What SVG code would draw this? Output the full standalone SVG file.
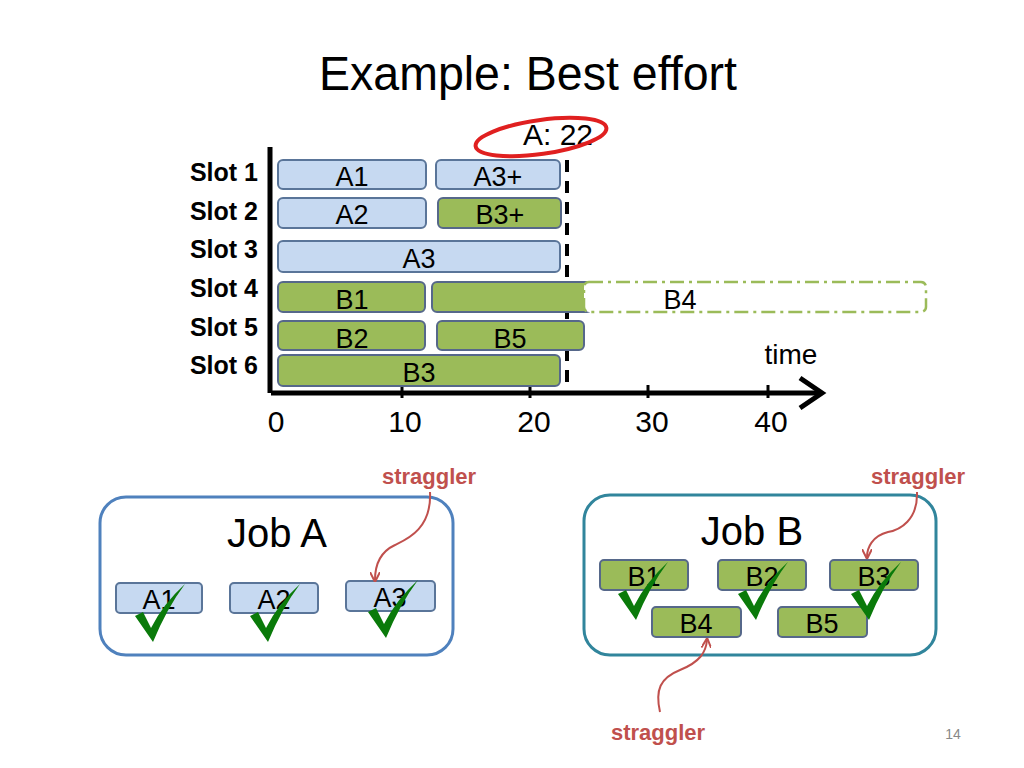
<svg xmlns="http://www.w3.org/2000/svg" width="1024" height="768" viewBox="0 0 1024 768">
<style>
.t{font-family:"Liberation Sans",Arial,sans-serif;fill:#000}
.s{font-family:"Liberation Sans",Arial,sans-serif;font-weight:bold;font-size:25px;text-anchor:end}
.b{fill:#c6d9f1;stroke:#5a7599;stroke-width:2}
.g{fill:#9bbb59;stroke:#56688a;stroke-width:2}
.l{font-family:"Liberation Sans",Arial,sans-serif;font-size:27px;text-anchor:middle}
.m{font-family:"Liberation Sans",Arial,sans-serif;font-size:27px;text-anchor:middle}
.r{font-family:"Liberation Sans",Arial,sans-serif;font-weight:bold;font-size:22px;fill:#c0504d;text-anchor:middle}
.c{fill:#0a7a0a}
.cv{fill:none;stroke:#c0504d;stroke-width:2}
</style>
<defs>
<marker id="ah" viewBox="0 0 10 10" refX="8" refY="5" markerWidth="5" markerHeight="5" orient="auto"><path d="M0,0L10,5L0,10" fill="none" stroke="#c0504d" stroke-width="2"/></marker>
<path id="chk" d="M0,18 L8,14 L16,30 Q28,6 50,-14 Q32,10 18,44 Z"/>
</defs>
<rect width="1024" height="768" fill="#fff"/>
<text class="t" x="528" y="90" font-size="48" text-anchor="middle" textLength="418" lengthAdjust="spacingAndGlyphs">Example: Best effort</text>
<text class="t" x="558" y="145" font-size="30" text-anchor="middle">A: 22</text>
<ellipse cx="541" cy="137" rx="66" ry="17" transform="rotate(-8 541 137)" fill="none" stroke="#e02020" stroke-width="4"/>
<g id="slots">
<text class="s" x="258" y="181">Slot 1</text>
<text class="s" x="258" y="220">Slot 2</text>
<text class="s" x="258" y="258">Slot 3</text>
<text class="s" x="258" y="297">Slot 4</text>
<text class="s" x="258" y="336">Slot 5</text>
<text class="s" x="258" y="374">Slot 6</text>
</g>
<g id="axes">
<line x1="270" y1="147" x2="270" y2="393" stroke="#000" stroke-width="5"/>
<line x1="271" y1="393" x2="820" y2="393" stroke="#000" stroke-width="5"/>
<path d="M800,378 L822,393 L800,408" fill="none" stroke="#000" stroke-width="5"/>
<g stroke="#000" stroke-width="3"><line x1="402" y1="385" x2="402" y2="398"/><line x1="530" y1="385" x2="530" y2="398"/><line x1="648" y1="385" x2="648" y2="398"/><line x1="768" y1="385" x2="768" y2="398"/></g>
<line x1="567" y1="160" x2="567" y2="393" stroke="#000" stroke-width="4" stroke-dasharray="12,9"/>
<g class="t" font-size="30" text-anchor="middle"><text x="276" y="432">0</text><text x="405" y="432">10</text><text x="534" y="432">20</text><text x="652" y="432">30</text><text x="771" y="432">40</text></g>
<text class="t" x="791" y="364" font-size="28" text-anchor="middle">time</text>
</g>
<g id="bars">
<rect class="b" x="278" y="160" width="148" height="29" rx="5"/><text class="l" x="352" y="186">A1</text>
<rect class="b" x="436" y="160" width="124" height="29" rx="5"/><text class="l" x="498" y="186">A3+</text>
<rect class="b" x="278" y="198" width="148" height="30" rx="5"/><text class="l" x="352" y="224">A2</text>
<rect class="g" x="438" y="198" width="123" height="30" rx="5"/><text class="l" x="500" y="224">B3+</text>
<rect class="b" x="278" y="241" width="282" height="31" rx="5"/><text class="l" x="419" y="268">A3</text>
<rect class="g" x="278" y="282" width="147" height="30" rx="5"/><text class="l" x="352" y="309">B1</text>
<rect class="g" x="432" y="282" width="160" height="30" rx="5"/>
<rect x="584" y="282" width="342" height="30" rx="5" fill="#fff" stroke="#9bbb59" stroke-width="2.5" stroke-dasharray="14,5,3,5"/><text class="l" x="680" y="309">B4</text>
<rect class="g" x="278" y="321" width="147" height="29" rx="5"/><text class="l" x="352" y="348">B2</text>
<rect class="g" x="437" y="321" width="147" height="29" rx="5"/><text class="l" x="510" y="348">B5</text>
<rect class="g" x="278" y="355" width="282" height="31" rx="5"/><text class="l" x="419" y="382">B3</text>
</g>
<g id="jobA">
<rect x="100" y="497" width="353" height="158" rx="26" fill="#fff" stroke="#4f81bd" stroke-width="3"/>
<text class="t" x="277" y="547" font-size="40" text-anchor="middle">Job A</text>
<rect class="b" x="116" y="583" width="86" height="30" rx="4"/><text class="m" x="159" y="609">A1</text>
<rect class="b" x="230" y="583" width="88" height="30" rx="4"/><text class="m" x="274" y="609">A2</text>
<rect class="b" x="346" y="581" width="89" height="30" rx="4"/><text class="m" x="390" y="607">A3</text>
<use href="#chk" class="c" x="135" y="598"/><use href="#chk" class="c" x="250" y="598"/><use href="#chk" class="c" x="368" y="594"/>
</g>
<g id="jobB">
<rect x="584" y="495" width="352" height="160" rx="26" fill="#fff" stroke="#31859c" stroke-width="3"/>
<text class="t" x="752" y="545" font-size="40" text-anchor="middle">Job B</text>
<rect class="g" x="600" y="560" width="88" height="30" rx="4"/><text class="m" x="644" y="586">B1</text>
<rect class="g" x="718" y="560" width="88" height="30" rx="4"/><text class="m" x="762" y="586">B2</text>
<rect class="g" x="830" y="560" width="88" height="30" rx="4"/><text class="m" x="874" y="586">B3</text>
<rect class="g" x="652" y="607" width="89" height="30" rx="4"/><text class="m" x="696" y="633">B4</text>
<rect class="g" x="778" y="607" width="89" height="30" rx="4"/><text class="m" x="822" y="633">B5</text>
<use href="#chk" class="c" x="618" y="576"/><use href="#chk" class="c" x="738" y="576"/><use href="#chk" class="c" x="851" y="576"/>
</g>
<g id="connectors">
<path class="cv" d="M430,492 C432,530 405,540 395,545 C380,552 375,565 375,580" marker-end="url(#ah)"/>
<path class="cv" d="M917,492 C918,520 900,530 888,532 C872,536 867,548 867,557" marker-end="url(#ah)"/>
<path class="cv" d="M660,712 C655,690 660,678 680,670 C700,662 706,652 707,640" marker-end="url(#ah)"/>
</g>
<text class="r" x="429" y="484">straggler</text>
<text class="r" x="918" y="484">straggler</text>
<text class="r" x="658" y="740">straggler</text>
<text x="953" y="739" font-family="Liberation Sans,Arial,sans-serif" font-size="14" fill="#888" text-anchor="middle">14</text>
</svg>
